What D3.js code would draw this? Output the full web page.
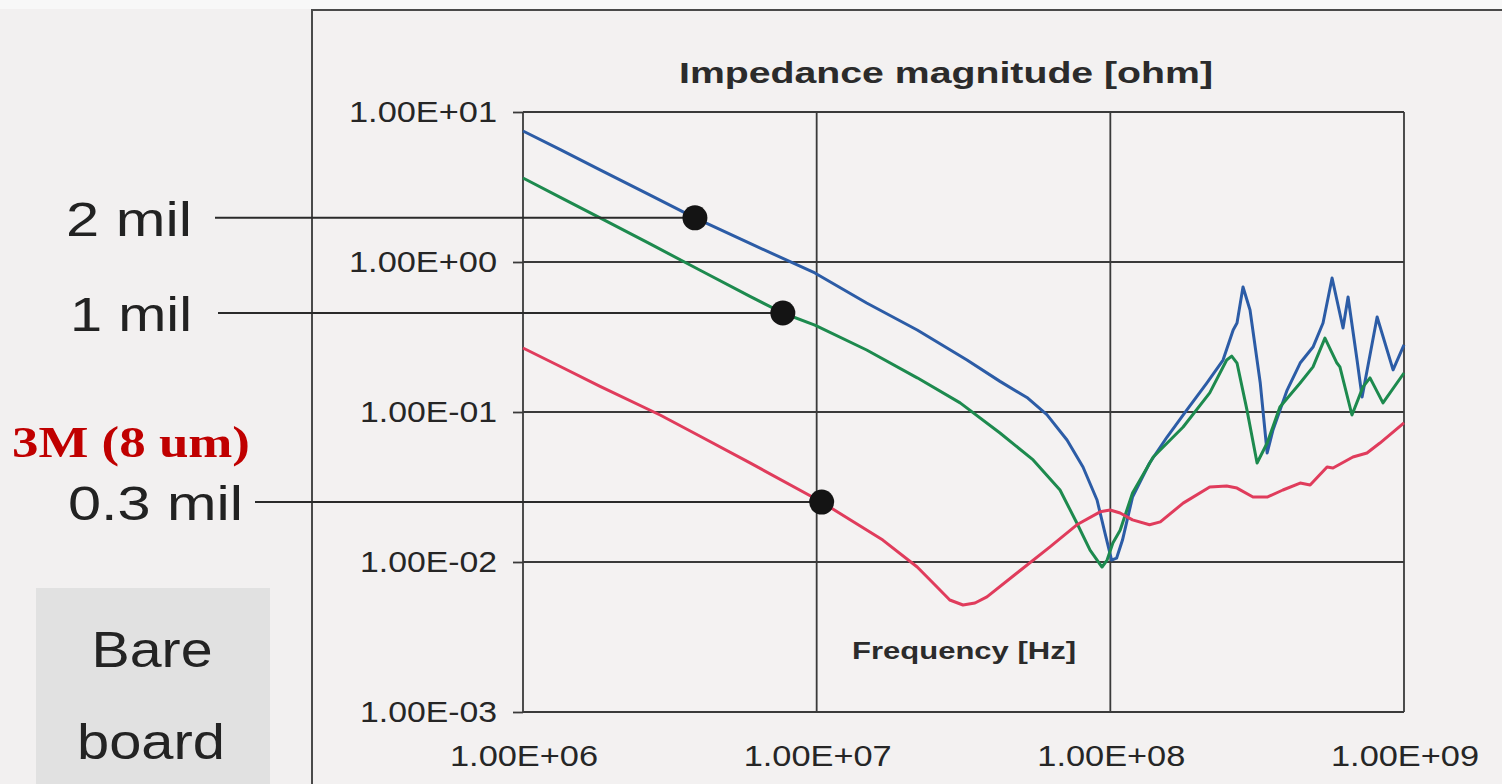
<!DOCTYPE html>
<html>
<head>
<meta charset="utf-8">
<script src="https://cdn.jsdelivr.net/npm/d3@7"></script>
<style>
  html, body { margin: 0; padding: 0; background: #f2f0f0; }
  svg { display: block; }
</style>
</head>
<body>
<svg id="chart" width="1502" height="784"></svg>
<script>
// Impedance magnitude of a power/ground plane pair vs. frequency, three dielectric thicknesses.

const xTicks = [1e6, 1e7, 1e8, 1e9];
const xTickLabels = ["1.00E+06", "1.00E+07", "1.00E+08", "1.00E+09"];
const yTicks = [10, 1, 0.1, 0.01, 0.001];
const yTickLabels = ["1.00E+01", "1.00E+00", "1.00E-01", "1.00E-02", "1.00E-03"];

// 2 mil dielectric (blue)
const freq2mil = [1.00e6, 1.34e6, 1.83e6, 2.71e6, 3.85e6, 5.93e6, 9.86e6, 1.48e7, 2.20e7, 3.25e7,
  4.21e7, 5.20e7, 6.08e7, 7.12e7, 8.07e7, 9.01e7, 9.59e7, 1.01e8, 1.05e8, 1.10e8,
  1.19e8, 1.36e8, 1.56e8, 1.82e8, 2.13e8, 2.42e8, 2.62e8, 2.70e8, 2.83e8, 2.99e8,
  3.24e8, 3.42e8, 3.58e8, 4.00e8, 4.43e8, 4.90e8, 5.30e8, 5.69e8, 6.20e8, 6.45e8,
  6.92e8, 7.20e8, 8.10e8, 9.18e8, 1.00e9];
const z2mil = [7.47, 5.61, 4.11, 2.79, 1.97, 1.33, 0.845, 0.533, 0.352, 0.222,
  0.160, 0.125, 0.0960, 0.0651, 0.0430, 0.0259, 0.0156, 0.0103, 0.0106, 0.0140,
  0.0271, 0.0457, 0.0681, 0.103, 0.156, 0.222, 0.352, 0.392, 0.681, 0.479,
  0.156, 0.0533, 0.0759, 0.140, 0.212, 0.271, 0.392, 0.782, 0.363, 0.585,
  0.222, 0.126, 0.430, 0.191, 0.280];

// 1 mil dielectric (green)
const freq1mil = [1.00e6, 1.34e6, 1.83e6, 2.71e6, 4.01e6, 5.93e6, 7.67e6, 9.86e6, 1.48e7, 2.20e7,
  3.08e7, 4.21e7, 5.46e7, 6.74e7, 7.69e7, 8.53e7, 9.37e7, 9.75e7, 1.02e8, 1.08e8,
  1.19e8, 1.40e8, 1.77e8, 2.18e8, 2.49e8, 2.59e8, 2.70e8, 2.92e8, 3.16e8, 3.42e8,
  3.78e8, 4.43e8, 4.90e8, 5.38e8, 5.91e8, 6.05e8, 6.65e8, 7.25e8, 7.66e8, 8.48e8,
  1.00e9];
const z1mil = [3.63, 2.70, 1.97, 1.32, 0.881, 0.590, 0.457, 0.380, 0.259, 0.169,
  0.115, 0.0724, 0.0479, 0.0302, 0.0182, 0.0120, 0.00926, 0.0103, 0.0134, 0.0163,
  0.0288, 0.0501, 0.0794, 0.134, 0.222, 0.236, 0.212, 0.103, 0.0457, 0.0621,
  0.108, 0.156, 0.200, 0.311, 0.212, 0.200, 0.0955, 0.147, 0.169, 0.115,
  0.182];

// 0.3 mil dielectric, 3M (8 um) (red)
const freq03mil = [1.00e6, 1.34e6, 1.83e6, 2.93e6, 4.01e6, 5.93e6, 1.04e7, 1.30e7, 1.68e7, 2.20e7,
  2.53e7, 2.84e7, 3.15e7, 3.46e7, 3.80e7, 4.81e7, 6.23e7, 7.69e7, 9.23e7, 9.98e7, 1.08e8, 1.19e8,
  1.36e8, 1.48e8, 1.77e8, 2.18e8, 2.49e8, 2.70e8, 3.06e8, 3.42e8, 3.87e8, 4.43e8,
  4.79e8, 5.47e8, 5.73e8, 6.70e8, 7.48e8, 8.28e8, 1.00e9];
const z03mil = [0.267, 0.201, 0.148, 0.0955, 0.0689, 0.0458, 0.0251, 0.0191, 0.0140, 0.00926,
  0.00703, 0.00558, 0.00517, 0.00533, 0.00585, 0.00845, 0.0126, 0.0177, 0.0216, 0.0222, 0.0212, 0.0191,
  0.0177, 0.0185, 0.0247, 0.0316, 0.0321, 0.0311, 0.0271, 0.0271, 0.0302, 0.0336,
  0.0326, 0.0430, 0.0423, 0.0501, 0.0533, 0.0621, 0.0845];

const seriesNames = ["2 mil", "1 mil", "0.3 mil"];
const seriesColors = ["#2c5ca6", "#1d8a4e", "#e03c5c"];
const seriesFreq = [freq2mil, freq1mil, freq03mil];
const seriesZ = [z2mil, z1mil, z03mil];

// Callout markers on each curve
const markerFreq = [3.85e6, 7.67e6, 1.04e7];
const markerZ = [1.97, 0.457, 0.0251];

const svg = d3.select("#chart");
const W = 1502, H = 784;

const x = d3.scaleLog().domain([1e6, 1e9]).range([523, 1404]);
const y = d3.scaleLog().domain([1e-3, 1e1]).range([712, 112]);

// Backgrounds
svg.append("rect").attr("x", 0).attr("y", 0).attr("width", W).attr("height", H).attr("fill", "#f2f0f0");
svg.append("rect").attr("x", 0).attr("y", 0).attr("width", W).attr("height", 9).attr("fill", "#f8f8f8");
svg.append("rect").attr("x", 312).attr("y", 10).attr("width", W - 312).attr("height", H - 10).attr("fill", "#f3f1f1");
svg.append("rect").attr("x", 525).attr("y", 114).attr("width", 877).attr("height", 596).attr("fill", "#f4f2f2");

// Outer frame
svg.append("path")
  .attr("d", `M312,${H} L312,10 L${W},10`)
  .attr("fill", "none").attr("stroke", "#4a4a4a").attr("stroke-width", 2);

// Grey box for "Bare board"
svg.append("rect").attr("x", 36).attr("y", 588).attr("width", 234).attr("height", H - 588)
  .attr("fill", "#e1e1e1");

// Stretched text helper
function addText(g, str, xPos, yPos, opts) {
  const t = g.append("text")
    .attr("x", xPos).attr("y", yPos)
    .attr("font-family", opts.family || "'Liberation Sans', Arial, sans-serif")
    .attr("font-size", opts.size)
    .attr("font-weight", opts.weight || "normal")
    .attr("fill", opts.fill || "#262626")
    .attr("text-anchor", opts.anchor || "start")
    .text(str);
  if (opts.len) t.attr("textLength", opts.len).attr("lengthAdjust", "spacingAndGlyphs");
  return t;
}

// Gridlines
const grid = svg.append("g");
grid.selectAll("line.h").data(yTicks).join("line")
  .attr("x1", x(1e6)).attr("x2", x(1e9))
  .attr("y1", d => y(d)).attr("y2", d => y(d))
  .attr("stroke", "#3a3a3a").attr("stroke-width", 1.8);
grid.selectAll("line.v").data(xTicks).join("line")
  .attr("x1", d => x(d)).attr("x2", d => x(d))
  .attr("y1", y(10)).attr("y2", y(1e-3))
  .attr("stroke", "#3a3a3a").attr("stroke-width", 1.8);

// Y axis ticks
const yAxis = d3.axisLeft(y).tickValues(yTicks).tickSize(10).tickFormat("");
const yAxisG = svg.append("g").attr("transform", `translate(${x(1e6)},0)`).call(yAxis);
yAxisG.select(".domain").remove();
yAxisG.selectAll(".tick line").attr("stroke", "#3a3a3a").attr("stroke-width", 1.8);

// Tick labels
const tl = svg.append("g");
yTicks.forEach((v, i) => {
  const lab = yTickLabels[i];
  addText(tl, lab, 497, y(v) + 10, { size: 29, anchor: "end", len: lab.includes("+") ? 148 : 137 });
});
xTicks.forEach((v, i) => {
  addText(tl, xTickLabels[i], x(v) + 1, 766, { size: 29, anchor: "middle", len: 148 });
});

// Titles
addText(svg, "Impedance magnitude [ohm]", 946, 83, { size: 30, weight: "bold", anchor: "middle", len: 534, fill: "#2b2b2b" });
addText(svg, "Frequency [Hz]", 964, 659, { size: 24, weight: "bold", anchor: "middle", len: 224, fill: "#2b2b2b" });

// Curves
const line = d3.line().x(d => x(d[0])).y(d => y(d[1]));
const curves = svg.append("g");
seriesFreq.forEach((fArr, i) => {
  const pts = fArr.map((f, k) => [f, seriesZ[i][k]]);
  curves.append("path")
    .datum(pts)
    .attr("d", line)
    .attr("fill", "none")
    .attr("stroke", seriesColors[i])
    .attr("stroke-width", 3)
    .attr("stroke-linejoin", "round");
});

// Leader lines and callout labels
const leaderStart = [215, 218, 255];
const labelRight = [192, 192, 243];
const labelWidth = [126, 122, 175];
const callouts = svg.append("g");
markerFreq.forEach((f, i) => {
  const my = y(markerZ[i]);
  callouts.append("line")
    .attr("x1", leaderStart[i]).attr("x2", x(f))
    .attr("y1", my).attr("y2", my)
    .attr("stroke", "#2a2a2a").attr("stroke-width", 2);
  addText(callouts, seriesNames[i], labelRight[i], my + 18, { size: 49, anchor: "end", len: labelWidth[i], fill: "#222" });
  callouts.append("circle")
    .attr("cx", x(f)).attr("cy", my).attr("r", 12.5)
    .attr("fill", "#141414");
});

// Side annotations
addText(svg, "3M (8 um)", 12, 457, { size: 44, weight: "bold", family: "'Liberation Serif', 'Times New Roman', serif", fill: "#c00000", len: 238 });
addText(svg, "Bare", 152, 667, { size: 50, anchor: "middle", len: 121, fill: "#232323" });
addText(svg, "board", 151, 759, { size: 50, anchor: "middle", len: 148, fill: "#232323" });
</script>
</body>
</html>
